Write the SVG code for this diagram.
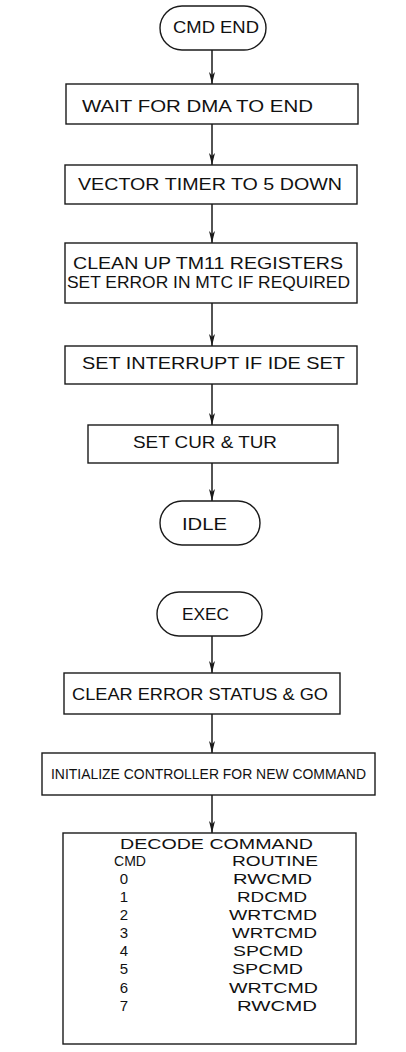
<svg xmlns="http://www.w3.org/2000/svg" width="406" height="1052" viewBox="0 0 406 1052">
<defs>
<marker id="arr" viewBox="0 0 12 6" refX="12" refY="3" markerWidth="12" markerHeight="6" markerUnits="userSpaceOnUse" orient="auto">
<path d="M0,0 L12,3 L0,6 L3,3 Z" fill="#1a1a1a"/>
</marker>
<style>
.box{fill:#fff;stroke:#1a1a1a;stroke-width:1.4}
.t{font-family:"Liberation Sans","DejaVu Sans",sans-serif;font-size:17px;fill:#111}
.s{font-family:"Liberation Sans","DejaVu Sans",sans-serif;font-size:15px;fill:#111}
.c{text-anchor:middle}
.con line{stroke:#1a1a1a;stroke-width:1.5;marker-end:url(#arr)}
</style>
</defs>
<rect width="406" height="1052" fill="#fff"/>
<g class="con" id="connectors">
<line x1="212" y1="50" x2="212" y2="84"/>
<line x1="212" y1="124" x2="212" y2="165"/>
<line x1="212" y1="204" x2="212" y2="243"/>
<line x1="212" y1="303" x2="212" y2="346"/>
<line x1="212" y1="384" x2="212" y2="425"/>
<line x1="212" y1="463" x2="212" y2="501"/>
<line x1="212" y1="636" x2="212" y2="673"/>
<line x1="212" y1="714" x2="212" y2="753"/>
<line x1="212" y1="795" x2="212" y2="833"/>
</g>
<g id="cmd-end">
<rect class="box" x="160" y="6" width="106" height="44" rx="22"/>
<text class="t" x="173" y="33" textLength="86" lengthAdjust="spacingAndGlyphs">CMD END</text>
</g>
<g id="wait-dma">
<rect class="box" x="66" y="84" width="292" height="40"/>
<text class="t" x="82" y="112" textLength="231" lengthAdjust="spacingAndGlyphs">WAIT FOR DMA TO END</text>
</g>
<g id="vector-timer">
<rect class="box" x="65" y="165" width="292" height="39"/>
<text class="t" x="78" y="190" textLength="264" lengthAdjust="spacingAndGlyphs">VECTOR TIMER TO 5 DOWN</text>
</g>
<g id="clean-up">
<rect class="box" x="65" y="243" width="292" height="60"/>
<text class="t" x="73" y="269" textLength="270" lengthAdjust="spacingAndGlyphs">CLEAN UP TM11 REGISTERS</text>
<text class="t" x="67" y="288" textLength="283" lengthAdjust="spacingAndGlyphs">SET ERROR IN MTC IF REQUIRED</text>
</g>
<g id="set-interrupt">
<rect class="box" x="65" y="346" width="292" height="38"/>
<text class="t" x="82" y="369" textLength="263" lengthAdjust="spacingAndGlyphs">SET INTERRUPT IF IDE SET</text>
</g>
<g id="set-cur-tur">
<rect class="box" x="88" y="425" width="250" height="38"/>
<text class="t" x="133" y="448" textLength="144" lengthAdjust="spacingAndGlyphs">SET CUR &amp; TUR</text>
</g>
<g id="idle">
<rect class="box" x="160" y="501" width="100" height="44" rx="22"/>
<text class="t" x="182" y="530" textLength="45" lengthAdjust="spacingAndGlyphs">IDLE</text>
</g>
<g id="exec">
<rect class="box" x="157" y="592" width="105" height="44" rx="22"/>
<text class="t" x="182" y="620" textLength="47" lengthAdjust="spacingAndGlyphs">EXEC</text>
</g>
<g id="clear-error">
<rect class="box" x="64" y="673" width="276" height="41"/>
<text class="t" x="72" y="700" textLength="256" lengthAdjust="spacingAndGlyphs">CLEAR ERROR STATUS &amp; GO</text>
</g>
<g id="initialize">
<rect class="box" x="42" y="753" width="333" height="42"/>
<text class="t" x="51" y="779" style="font-size:14px" textLength="315" lengthAdjust="spacingAndGlyphs">INITIALIZE CONTROLLER FOR NEW COMMAND</text>
</g>
<g id="decode">
<rect class="box" x="63" y="833" width="293" height="211"/>
<text class="s" x="120" y="849" textLength="193" lengthAdjust="spacingAndGlyphs">DECODE COMMAND</text>
<text class="s" x="114" y="866" textLength="32" lengthAdjust="spacingAndGlyphs">CMD</text>
<text class="s" x="232" y="866" textLength="86" lengthAdjust="spacingAndGlyphs">ROUTINE</text>
<g class="s c">
<text x="124" y="884">0</text>
<text x="124" y="902">1</text>
<text x="124" y="920">2</text>
<text x="124" y="938">3</text>
<text x="124" y="956">4</text>
<text x="124" y="974">5</text>
<text x="124" y="993">6</text>
<text x="124" y="1011">7</text>
</g>
<g class="s">
<text x="233" y="884" textLength="79" lengthAdjust="spacingAndGlyphs">RWCMD</text>
<text x="237" y="902" textLength="70" lengthAdjust="spacingAndGlyphs">RDCMD</text>
<text x="229" y="920" textLength="88" lengthAdjust="spacingAndGlyphs">WRTCMD</text>
<text x="232" y="938" textLength="85" lengthAdjust="spacingAndGlyphs">WRTCMD</text>
<text x="233" y="956" textLength="70" lengthAdjust="spacingAndGlyphs">SPCMD</text>
<text x="232" y="974" textLength="71" lengthAdjust="spacingAndGlyphs">SPCMD</text>
<text x="229" y="993" textLength="89" lengthAdjust="spacingAndGlyphs">WRTCMD</text>
<text x="237" y="1011" textLength="80" lengthAdjust="spacingAndGlyphs">RWCMD</text>
</g>
</g>
</svg>
